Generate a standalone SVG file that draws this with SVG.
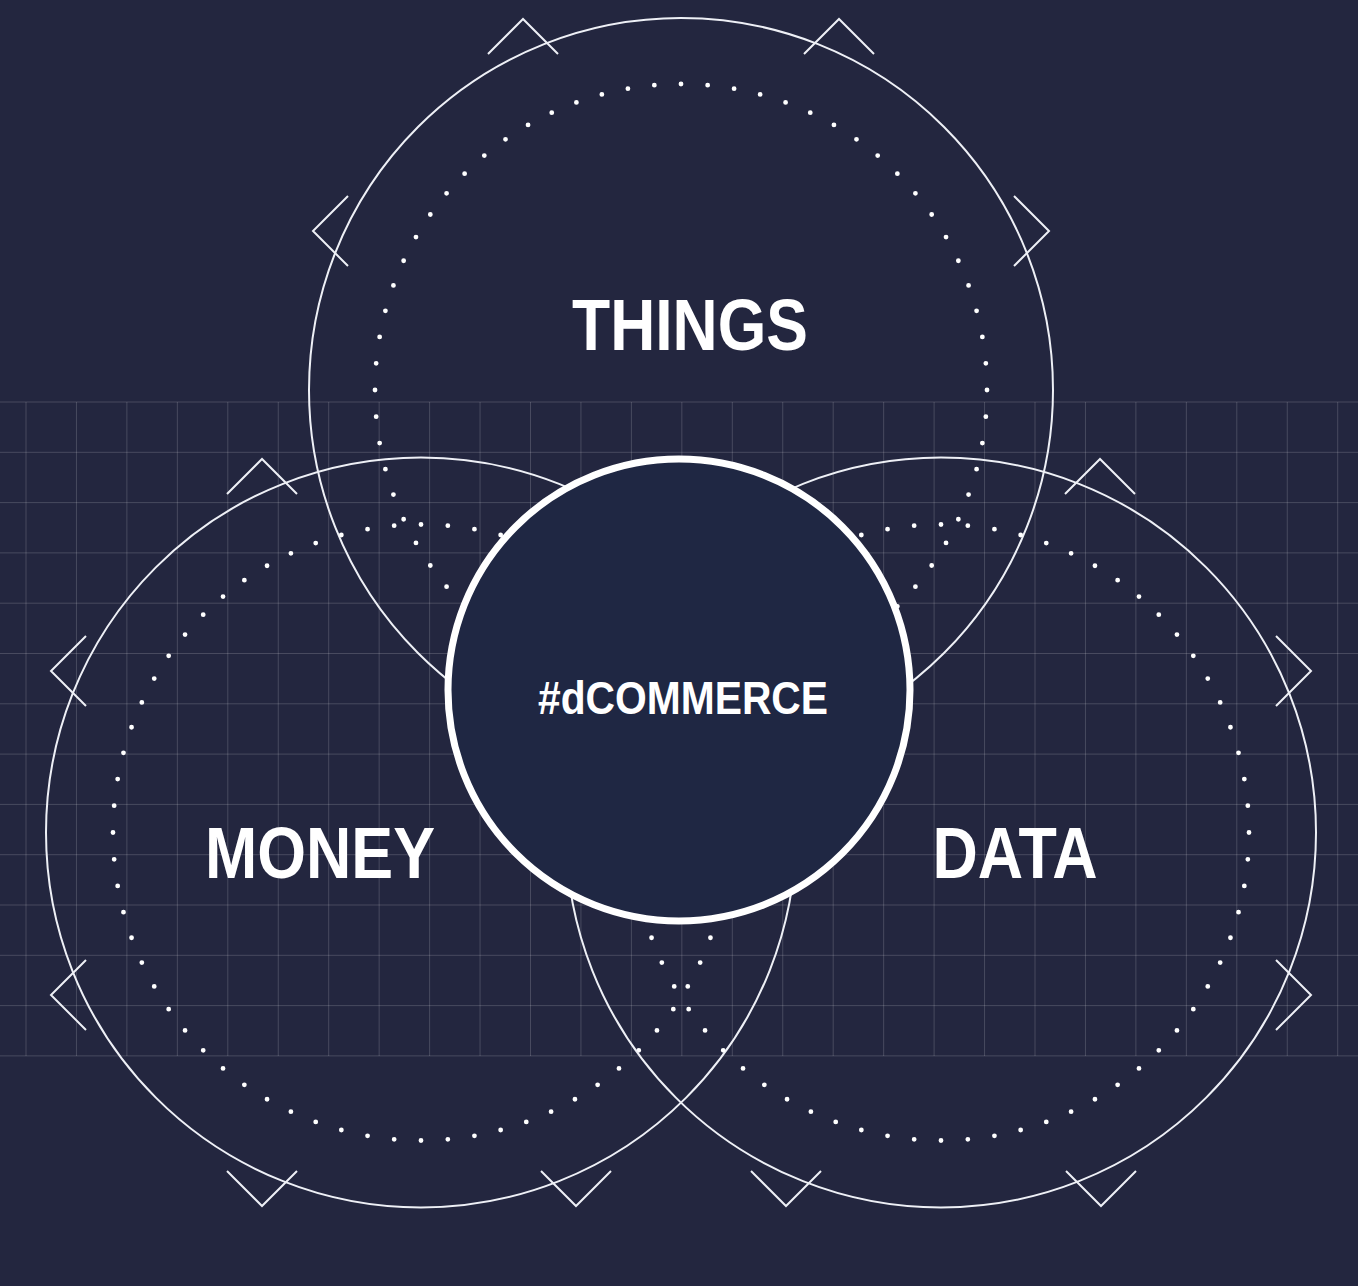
<svg xmlns="http://www.w3.org/2000/svg" width="1358" height="1286" viewBox="0 0 1358 1286">
  <defs>
    <style>
      .grid line { stroke: #ffffff; stroke-opacity: 0.17; stroke-width: 1; }
      .ring { fill: none; stroke: #eef0f6; stroke-width: 2; }
      .dots { fill: none; stroke: #ffffff; stroke-width: 4.8; stroke-linecap: round; stroke-dasharray: 0 1; }
      .chev { fill: none; stroke: #eef0f6; stroke-width: 2; stroke-linejoin: miter; }
      .label { font-family: "Liberation Sans", Arial, sans-serif; font-weight: bold; fill: #ffffff; text-anchor: middle; }
    </style>
    <!-- chevron shapes, peak at the origin -->
    <polyline id="chev-up" points="-35,35 0,0 35,35"/>
    <polyline id="chev-down" points="-35,-35 0,0 35,-35"/>
    <polyline id="chev-left" points="35,-35 0,0 35,35"/>
    <polyline id="chev-right" points="-35,-35 0,0 -35,35"/>
  </defs>

  <rect width="1358" height="1286" fill="#23263f"/>

  <!-- background grid -->
  <g class="grid">
    <line x1="0" y1="402" x2="1358" y2="402"/>
    <line x1="0" y1="452.3" x2="1358" y2="452.3"/>
    <line x1="0" y1="502.6" x2="1358" y2="502.6"/>
    <line x1="0" y1="552.9" x2="1358" y2="552.9"/>
    <line x1="0" y1="603.2" x2="1358" y2="603.2"/>
    <line x1="0" y1="653.5" x2="1358" y2="653.5"/>
    <line x1="0" y1="703.8" x2="1358" y2="703.8"/>
    <line x1="0" y1="754.1" x2="1358" y2="754.1"/>
    <line x1="0" y1="804.4" x2="1358" y2="804.4"/>
    <line x1="0" y1="854.7" x2="1358" y2="854.7"/>
    <line x1="0" y1="905" x2="1358" y2="905"/>
    <line x1="0" y1="955.3" x2="1358" y2="955.3"/>
    <line x1="0" y1="1005.6" x2="1358" y2="1005.6"/>
    <line x1="0" y1="1055.9" x2="1358" y2="1055.9"/>
    <line x1="26" y1="402" x2="26" y2="1056"/>
    <line x1="76.45" y1="402" x2="76.45" y2="1056"/>
    <line x1="126.9" y1="402" x2="126.9" y2="1056"/>
    <line x1="177.35" y1="402" x2="177.35" y2="1056"/>
    <line x1="227.8" y1="402" x2="227.8" y2="1056"/>
    <line x1="278.25" y1="402" x2="278.25" y2="1056"/>
    <line x1="328.7" y1="402" x2="328.7" y2="1056"/>
    <line x1="379.15" y1="402" x2="379.15" y2="1056"/>
    <line x1="429.6" y1="402" x2="429.6" y2="1056"/>
    <line x1="480.05" y1="402" x2="480.05" y2="1056"/>
    <line x1="530.5" y1="402" x2="530.5" y2="1056"/>
    <line x1="580.95" y1="402" x2="580.95" y2="1056"/>
    <line x1="631.4" y1="402" x2="631.4" y2="1056"/>
    <line x1="681.85" y1="402" x2="681.85" y2="1056"/>
    <line x1="732.3" y1="402" x2="732.3" y2="1056"/>
    <line x1="782.75" y1="402" x2="782.75" y2="1056"/>
    <line x1="833.2" y1="402" x2="833.2" y2="1056"/>
    <line x1="883.65" y1="402" x2="883.65" y2="1056"/>
    <line x1="934.1" y1="402" x2="934.1" y2="1056"/>
    <line x1="984.55" y1="402" x2="984.55" y2="1056"/>
    <line x1="1035" y1="402" x2="1035" y2="1056"/>
    <line x1="1085.45" y1="402" x2="1085.45" y2="1056"/>
    <line x1="1135.9" y1="402" x2="1135.9" y2="1056"/>
    <line x1="1186.35" y1="402" x2="1186.35" y2="1056"/>
    <line x1="1236.8" y1="402" x2="1236.8" y2="1056"/>
    <line x1="1287.25" y1="402" x2="1287.25" y2="1056"/>
    <line x1="1337.7" y1="402" x2="1337.7" y2="1056"/>
  </g>

  <!-- THINGS -->
  <g id="things">
    <circle class="ring" cx="681" cy="390" r="372"/>
    <circle class="dots" cx="681" cy="390" r="306" pathLength="72"/>
    <use href="#chev-up" class="chev" x="523" y="19"/>
    <use href="#chev-up" class="chev" x="839" y="19"/>
    <use href="#chev-left" class="chev" x="313" y="231"/>
    <use href="#chev-right" class="chev" x="1049" y="231"/>
  </g>

  <!-- MONEY -->
  <g id="money">
    <circle class="ring" cx="421" cy="832.5" r="375"/>
    <circle class="dots" cx="421" cy="832.5" r="308" pathLength="72"/>
    <use href="#chev-up" class="chev" x="262" y="459"/>
    <use href="#chev-left" class="chev" x="51" y="671"/>
    <use href="#chev-left" class="chev" x="51" y="995"/>
    <use href="#chev-down" class="chev" x="262" y="1206"/>
    <use href="#chev-down" class="chev" x="576" y="1206"/>
  </g>

  <!-- DATA -->
  <g id="data">
    <circle class="ring" cx="941" cy="832.5" r="375"/>
    <circle class="dots" cx="941" cy="832.5" r="308" pathLength="72"/>
    <use href="#chev-up" class="chev" x="1100" y="459"/>
    <use href="#chev-right" class="chev" x="1311" y="671"/>
    <use href="#chev-right" class="chev" x="1311" y="995"/>
    <use href="#chev-down" class="chev" x="786" y="1206"/>
    <use href="#chev-down" class="chev" x="1101" y="1206"/>
  </g>

  <!-- centre hub -->
  <g id="dcommerce">
    <circle cx="679" cy="690" r="231" fill="#1f2743" stroke="#ffffff" stroke-width="7"/>
    <text class="label" x="683" y="714" font-size="46" textLength="290" lengthAdjust="spacingAndGlyphs">#dCOMMERCE</text>
  </g>

  <!-- set labels -->
  <g id="labels">
    <text class="label" x="690" y="350" font-size="72" textLength="236" lengthAdjust="spacingAndGlyphs">THINGS</text>
    <text class="label" x="320" y="878" font-size="72" textLength="230" lengthAdjust="spacingAndGlyphs">MONEY</text>
    <text class="label" x="1015" y="878" font-size="72" textLength="165" lengthAdjust="spacingAndGlyphs">DATA</text>
  </g>
</svg>
